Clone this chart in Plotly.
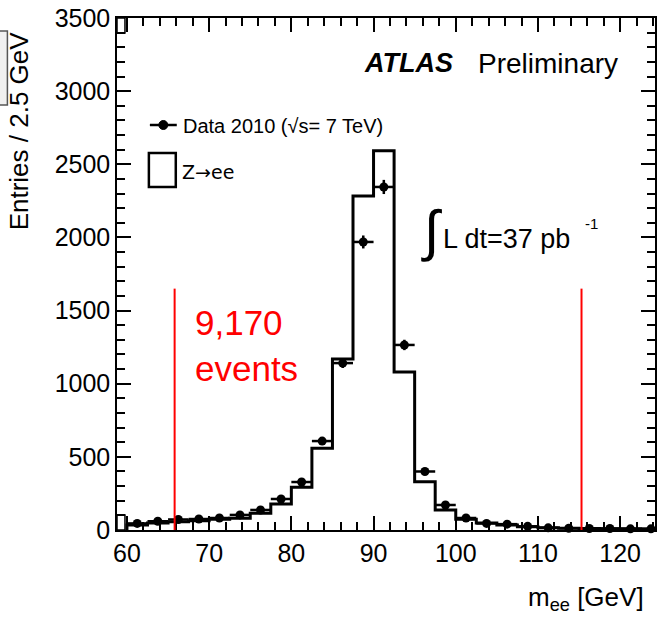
import plotly.graph_objects as go

# ---------------- data ----------------
bin_edges = [60, 62.5, 65, 67.5, 70, 72.5, 75, 77.5, 80, 82.5, 85, 87.5, 90,
             92.5, 95, 97.5, 100, 102.5, 105, 107.5, 110, 112.5, 115, 117.5,
             120, 122.5, 125]
mc_counts = [34, 48, 57, 64, 73, 80, 114, 178, 292, 558, 1169, 2283, 2593,
             1080, 330, 137, 73, 48, 34, 22, 16, 12, 10, 9, 8, 7]
data_centers = [61.25, 63.75, 66.25, 68.75, 71.25, 73.75, 76.25, 78.75, 81.25,
                83.75, 86.25, 88.75, 91.25, 93.75, 96.25, 98.75, 101.25,
                103.75, 106.25, 108.75, 111.25, 113.75, 116.25, 118.75,
                121.25, 123.75]
data_counts = [45, 60, 72, 75, 82, 103, 137, 212, 328, 608, 1141, 1969, 2345,
               1265, 400, 171, 82, 45, 40, 25, 15, 12, 10, 10, 8, 8]
half_bin = 1.25
window_edges = [65.8, 115.3]
window_top = 1650
x_ticks = [60, 70, 80, 90, 100, 110, 120]
y_ticks = [0, 500, 1000, 1500, 2000, 2500, 3000, 3500]

# ---------------- layout helpers (pixel -> paper) ----------------
W, H = 657, 617
L, R, T, B = 117, 657, 18, 530


def px(x):
    return (x - L) / (R - L)


def py(y):
    return (B - y) / (B - T)


FONT = "Liberation Sans, Arial, Helvetica, sans-serif"

fig = go.Figure()

# MC histogram as step line
hx = [bin_edges[0]] + bin_edges
hy = [0] + mc_counts + [mc_counts[-1]]
fig.add_trace(go.Scatter(
    x=hx, y=hy, mode="lines", line=dict(shape="hv", color="black", width=3),
    hoverinfo="skip", showlegend=False))

# Data points
fig.add_trace(go.Scatter(
    x=data_centers, y=data_counts, mode="markers",
    marker=dict(color="black", size=9),
    error_x=dict(type="constant", value=half_bin, width=0, color="black",
                 thickness=2.5),
    error_y=dict(type="sqrt", width=0, color="black", thickness=2.5),
    showlegend=False, cliponaxis=False))

shapes = []
# red mass window lines
for xe in window_edges:
    shapes.append(dict(type="line", xref="x", yref="y", x0=xe, x1=xe,
                       y0=0, y1=window_top,
                       line=dict(color="#ff0000", width=2)))

# small corner boxes of the frame
shapes.append(dict(type="rect", xref="paper", yref="paper",
                   x0=px(117), x1=px(125), y0=py(33), y1=py(18),
                   line=dict(color="black", width=1.5)))
shapes.append(dict(type="rect", xref="paper", yref="paper",
                   x0=px(117), x1=px(125), y0=py(530), y1=py(515),
                   line=dict(color="black", width=1.5)))

# grey box fragment at top-left edge
shapes.append(dict(type="rect", xref="paper", yref="paper",
                   x0=px(-5), x1=px(7), y0=py(105), y1=py(31),
                   fillcolor="#f0f0f0", line=dict(color="#555555", width=1.5),
                   layer="below"))

# legend: data line + marker
shapes.append(dict(type="line", xref="paper", yref="paper",
                   x0=px(150), x1=px(177), y0=py(125), y1=py(125),
                   line=dict(color="black", width=2.5)))
shapes.append(dict(type="circle", xref="paper", yref="paper",
                   x0=px(159), x1=px(168), y0=py(129.5), y1=py(120.5),
                   fillcolor="black", line=dict(color="black", width=1)))
# legend: MC box
shapes.append(dict(type="rect", xref="paper", yref="paper",
                   x0=px(149), x1=px(176), y0=py(187), y1=py(153),
                   line=dict(color="black", width=2.5)))

annotations = []


def txt(text, x, y, size, color="black", xanchor="left", yanchor="middle",
        angle=0, family=FONT):
    annotations.append(dict(text=text, x=px(x), y=py(y), xref="paper",
                            yref="paper", showarrow=False, xanchor=xanchor,
                            yanchor=yanchor, textangle=angle,
                            font=dict(family=family, size=size, color=color)))


txt("Data 2010 (√s= 7 TeV)", 181, 126, 20)
txt("Z→ee", 180, 172, 19, family="DejaVu Sans, Liberation Sans, sans-serif")
txt("<b><i>ATLAS</i></b>", 363, 63, 27)
txt("Preliminary", 477, 63, 28)
txt("∫", 433, 230, 56, xanchor="center")
txt("L dt=37 pb", 442, 239, 27)
txt("-1", 585, 223, 15)
txt("9,170", 193, 322, 35, color="#ff0000")
txt("events", 193, 368, 35, color="#ff0000")
txt("Entries / 2.5 GeV", 19, 131, 26, xanchor="center", angle=-90)
txt("m<sub>ee</sub> [GeV]", 648, 598, 26, xanchor="right")

axis_common = dict(
    showline=True, linecolor="black", linewidth=1.5, mirror="allticks",
    ticks="inside", tickcolor="black", tickwidth=1.5, ticklen=14,
    showgrid=False, zeroline=False,
    tickfont=dict(family=FONT, size=25, color="black"),
)

fig.update_layout(
    width=W, height=H,
    margin=dict(l=L, r=W - R, t=T, b=H - B, pad=0),
    paper_bgcolor="white", plot_bgcolor="white",
    xaxis=dict(range=[58.79, 124.24], tickvals=x_ticks,
               minor=dict(ticks="inside", ticklen=8, dtick=2, tick0=60,
                          tickcolor="black", tickwidth=1.5),
               **axis_common),
    yaxis=dict(range=[0, 3500], tickvals=y_ticks,
               minor=dict(ticks="inside", ticklen=8, dtick=100, tick0=0,
                          tickcolor="black", tickwidth=1.5),
               **axis_common),
    shapes=shapes, annotations=annotations, showlegend=False,
)

fig.write_html("out.html")
